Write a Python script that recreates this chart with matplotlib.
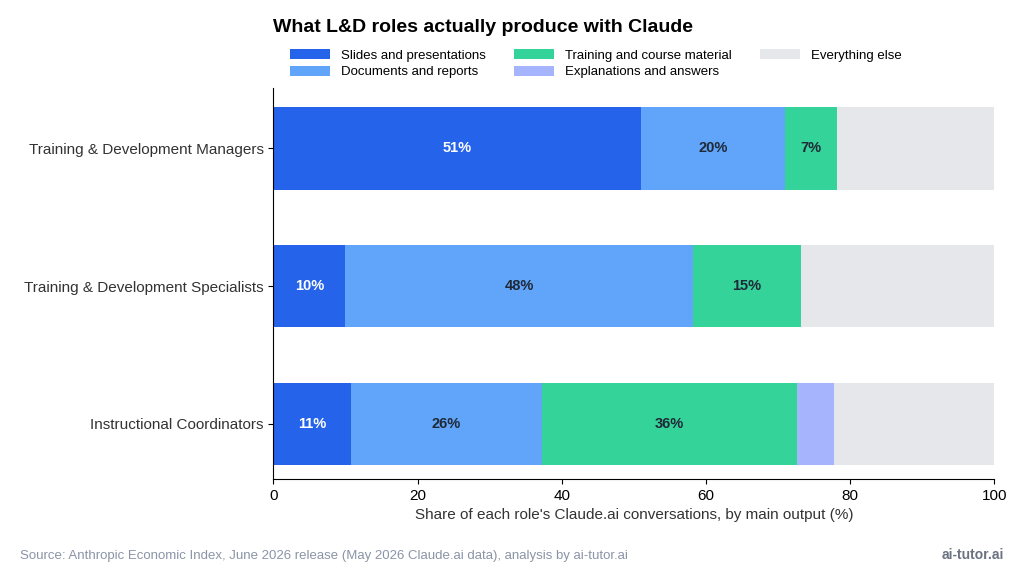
import matplotlib
matplotlib.use("Agg")
import matplotlib.pyplot as plt
import numpy as np

plt.rcParams['font.family'] = ['Liberation Sans', 'DejaVu Sans']

roles = ["Training & Development Managers", "Training & Development Specialists", "Instructional Coordinators"]
series = ["Slides and presentations", "Documents and reports", "Training and course material",
          "Explanations and answers", "Everything else"]
slides = [51.0, 10.0, 10.7]
documents = [20.0, 48.2, 26.5]
training = [7.2, 15.0, 35.5]
explanations = [0.0, 0.0, 5.0]
other = [21.8, 26.8, 22.3]
colors = ["#2563EB", "#60A5FA", "#34D399", "#A5B4FC", "#E5E7EB"]
label_colors = ["white", "#1f2937", "#1f2937", "#1f2937", None]

data = [slides, documents, training, explanations, other]
fig, ax = plt.subplots(figsize=(10.24, 5.73), dpi=100)
fig.subplots_adjust(left=0.267, right=0.971, top=0.846, bottom=0.164)
y = np.arange(len(roles))[::-1]
left = np.zeros(len(roles))
for vals, name, c, lc in zip(data, series, colors, label_colors):
    vals = np.array(vals)
    ax.barh(y, vals, left=left, color=c, height=0.6, label=name)
    if lc:
        for yi, l, v in zip(y, left, vals):
            if v >= 6:
                ax.text(l + v / 2, yi, f"{v:.0f}%", ha="center", va="center",
                        color=lc, fontsize=10.5, fontweight="bold")
    left += vals

ax.set_yticks(y)
ax.set_yticklabels(roles, fontsize=11, color="#333333")
ax.set_xlim(0, 100)
ax.set_ylim(-0.4, 2.435)
ax.tick_params(axis="x", labelsize=11)
ax.set_xlabel("Share of each role's Claude.ai conversations, by main output (%)", fontsize=11, color="#333333")
for s in ["top", "right"]:
    ax.spines[s].set_visible(False)
fig.legend(loc="upper left", bbox_to_anchor=(0.272, 0.935), ncol=3, frameon=False, fontsize=9.5,
           handlelength=3.0, handleheight=0.8, columnspacing=2.2, labelspacing=0.3)
fig.text(0.267, 0.945, "What L&D roles actually produce with Claude", fontsize=14, fontweight="bold")
fig.text(0.02, 0.025, "Source: Anthropic Economic Index, June 2026 release (May 2026 Claude.ai data), analysis by ai-tutor.ai",
         fontsize=9.5, color="#8a94a6")
fig.text(0.98, 0.025, "ai-tutor.ai", fontsize=10, color="#6b7280", fontweight="bold", ha="right")
fig.savefig("out.png", dpi=100)
